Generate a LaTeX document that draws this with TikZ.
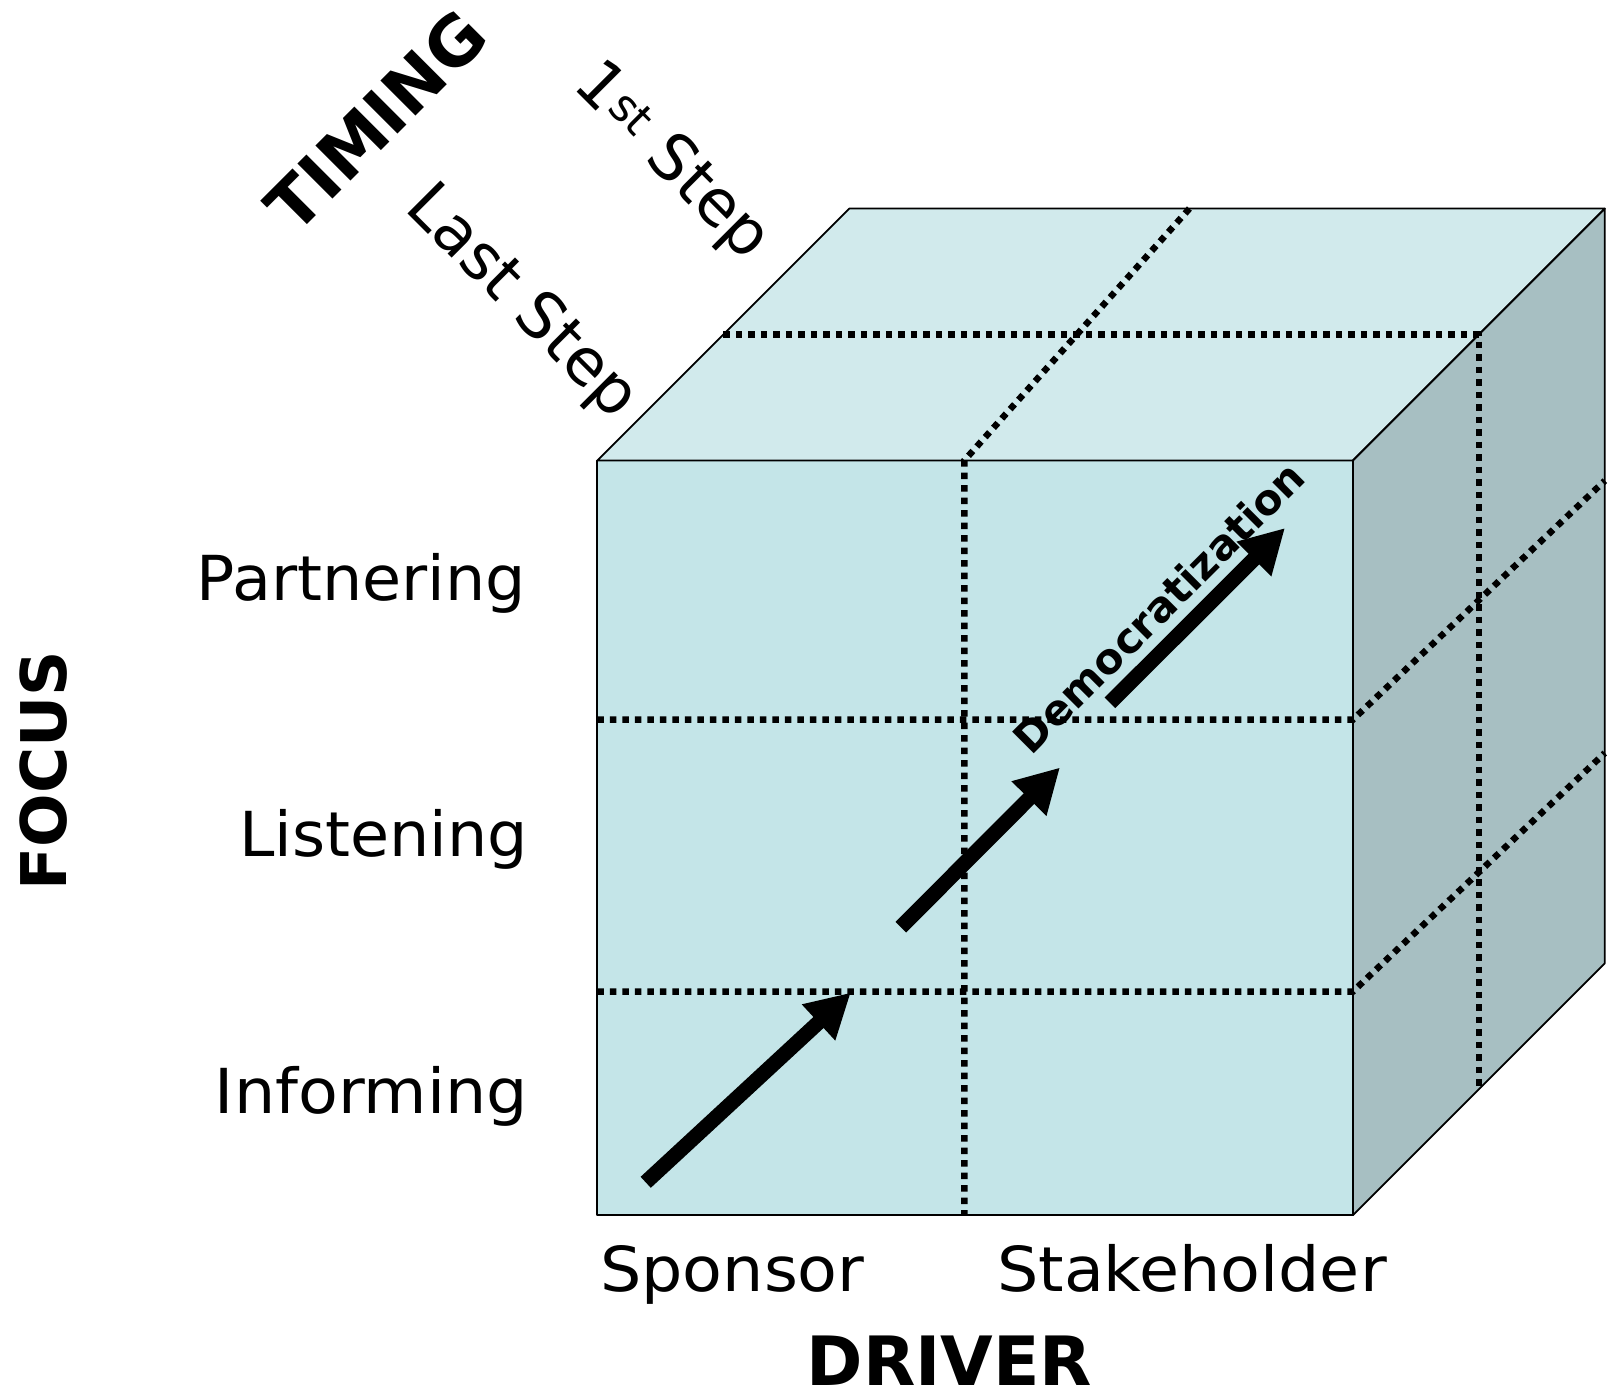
\documentclass[tikz,border=0pt]{standalone}
\usepackage{fontspec}
\setmainfont{DejaVu Sans}
\usetikzlibrary{arrows.meta}
\definecolor{frontc}{RGB}{196,229,232}
\definecolor{topc}{RGB}{209,234,236}
\definecolor{sidec}{RGB}{167,191,194}
\begin{document}
\begin{tikzpicture}[x=1bp,y=-1bp,
  face/.style={draw=black, line width=1.8bp, line join=round},
  gridline/.style={line width=6.5bp, dash pattern=on 6.5bp off 6bp},
  bigarrow/.style={line width=15bp, -{Triangle[length=44bp,width=46bp]}},
  lab/.style={inner sep=0pt, font=\fontsize{62bp}{74bp}\selectfont},
  steplab/.style={inner sep=0pt, font=\fontsize{64bp}{76bp}\selectfont},
  axislab/.style={inner sep=0pt, font=\fontsize{68bp}{80bp}\selectfont\bfseries},
]
\fill[white] (0,0) rectangle (1612,1390);
\useasboundingbox (0,0) rectangle (1612,1390);

% cube corners
\coordinate (FTL) at (597.3,460.5);
\coordinate (FTR) at (1352.9,460.5);
\coordinate (FBL) at (597.3,1215.1);
\coordinate (FBR) at (1352.9,1215.1);
\coordinate (BTL) at (849.2,208.6);
\coordinate (BTR) at (1604.8,208.6);
\coordinate (BBR) at (1604.8,963.2);

\fill[topc] (FTL) -- (BTL) -- (BTR) -- (FTR) -- cycle;
\fill[sidec] (FTR) -- (BTR) -- (BBR) -- (FBR) -- cycle;
\fill[frontc] (FTL) -- (FTR) -- (FBR) -- (FBL) -- cycle;

% grid points
\coordinate (TH1) at (723.3,334.6);
\coordinate (TH2) at (1478.9,334.6);
\coordinate (RV2) at (1478.9,1089.1);
\coordinate (TD1) at (964.3,460.5);
\coordinate (TD2) at (1189.4,208.6);
\coordinate (FV2) at (964.3,1215.1);
\coordinate (FH1a) at (597.3,719.6);
\coordinate (FH1b) at (1352.9,719.6);
\coordinate (FH2a) at (597.3,991.5);
\coordinate (FH2b) at (1352.9,991.5);
\coordinate (RH1) at (1604.8,480.7);
\coordinate (RH2) at (1604.8,753.0);

\draw[gridline] (TH1) -- (TH2) -- (RV2);
\draw[gridline] (TD2) -- (TD1) -- (FV2);
\draw[gridline] (FH1a) -- (FH1b) -- (RH1);
\draw[gridline] (FH2a) -- (FH2b) -- (RH2);

\draw[face] (FTL) -- (BTL) -- (BTR) -- (FTR) -- cycle;
\draw[face] (FTR) -- (BTR) -- (BBR) -- (FBR) -- cycle;
\draw[face] (FTL) -- (FTR) -- (FBR) -- (FBL) -- cycle;

% arrows
\coordinate (a1s) at (645.7,1182.3);
\coordinate (a1e) at (850.8,992.6);
\coordinate (a2s) at (900.8,927.2);
\coordinate (a2e) at (1060.0,767.5);
\coordinate (a3s) at (1110.0,702.8);
\coordinate (a3e) at (1285.0,528.0);
\draw[bigarrow] (a1s) -- (a1e);
\draw[bigarrow] (a2s) -- (a2e);
\draw[bigarrow] (a3s) -- (a3e);

\node[font=\fontsize{42bp}{50bp}\selectfont\bfseries, inner sep=0pt, rotate=45, anchor=base] (demo) at (1170,618) {Democratization};

% labels
\node[lab, xscale=1.025, anchor=base east] (partnering) at (526,600) {Partnering};
\node[lab, xscale=1.025, anchor=base east] (listening) at (528,856) {Listening};
\node[lab, xscale=1.05, anchor=base east] (informing) at (528,1113) {Informing};
\node[lab, xscale=1.05, anchor=base west] (sponsor) at (600,1291) {Sponsor};
\node[lab, xscale=1.05, anchor=base west] (stake) at (997,1291) {Stakeholder};
\node[axislab, anchor=base] (driver) at (949.5,1385) {DRIVER};
\node[inner sep=0pt, font=\fontsize{63bp}{75bp}\selectfont\bfseries, rotate=90, anchor=base] (focus) at (66,770.5) {FOCUS};
\node[axislab, rotate=45] (timing) at (376,121) {TIMING};
\node[steplab, rotate=-45] (first) at (671,162.5) {1\textsuperscript{st} Step};
\node[steplab, rotate=-45] (last) at (521,303) {Last Step};
\end{tikzpicture}
\end{document}
